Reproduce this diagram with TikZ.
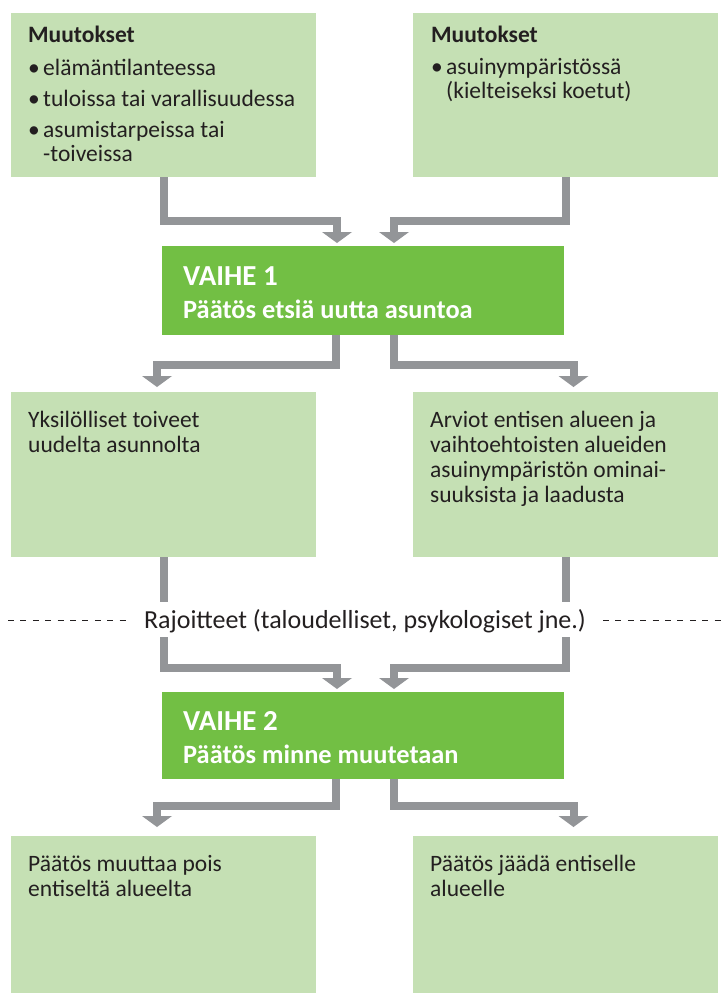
\documentclass[tikz,border=0pt]{standalone}
\usepackage{fontspec}
\setmainfont{Carlito}
\usetikzlibrary{arrows.meta}

\definecolor{lightgr}{RGB}{197,224,180}
\definecolor{stepgr}{RGB}{114,191,68}
\definecolor{linegr}{RGB}{147,149,152}
\definecolor{txt}{RGB}{35,31,32}

\newcommand{\bul}{\makebox[15pt][l]{\textbullet}}
\newcommand{\ind}{\hspace*{15pt}}

\begin{document}
\begin{tikzpicture}[x=1pt,y=-1pt,
    lbox/.style={fill=lightgr, anchor=north west, minimum width=305pt, inner sep=0pt, outer sep=0pt},
    gbox/.style={fill=stepgr, anchor=north west, minimum width=402pt, inner sep=0pt, outer sep=0pt},
    btext/.style={anchor=north west, align=left, inner sep=0pt, text=txt, font=\fontsize{23.5}{25}\selectfont},
    gtext/.style={anchor=base west, inner sep=0pt, text=white, font=\bfseries\fontsize{26.4}{30}\selectfont},
    gtitle/.style={gtext, font=\bfseries\fontsize{29}{32}\selectfont},
    gline/.style={draw=linegr, line width=8pt},
    conn/.style={gline, -{Triangle[width=30pt,length=11pt,line width=0pt]}},
    dashline/.style={draw=txt, line width=1pt, dash pattern=on 6pt off 6.4pt}]
    \useasboundingbox (0,0) rectangle (725,994);

    % boxes
    \node[lbox, minimum height=164pt] (tl) at (11,13) {};
    \node[lbox, minimum height=164pt] (tr) at (413,13) {};
    \node[gbox, minimum height=89pt] (g1) at (162,246) {};
    \node[lbox, minimum height=165pt] (ml) at (11,392) {};
    \node[lbox, minimum height=165pt] (mr) at (413,392) {};
    \node[gbox, minimum height=87pt] (g2) at (162,692) {};
    \node[lbox, minimum height=157pt] (bl) at (11,836) {};
    \node[lbox, minimum height=157pt] (br) at (413,836) {};

    % texts
    \node[btext] (tlt) at (28,26) {\textbf{Muutokset}\\[8pt]
        \bul elämäntilanteessa\\[6pt]
        \bul tuloissa tai varallisuudessa\\[6pt]
        \bul asumistarpeissa tai\\[-1pt]
        \ind -toiveissa};
    \node[btext] (trt) at (431,26) {\textbf{Muutokset}\\[7pt]
        \bul asuinympäristössä\\[-1pt]
        \ind (kielteiseksi koetut)};
    \node[gtitle] (g1a) at (183,285) {VAIHE 1};
    \node[gtext] (g1b) at (183,318) {Päätös etsiä uutta asuntoa};
    \node[btext] (mlt) at (28,411) {Yksilölliset toiveet\\ uudelta asunnolta};
    \node[btext] (mrt) at (430,411) {Arviot entisen alueen ja\\ vaihtoehtoisten alueiden\\
        asuinympäristön ominai-\\ suuksista ja laadusta};
    \node[gtitle] (g2a) at (183,730) {VAIHE 2};
    \node[gtext] (g2b) at (183,763) {Päätös minne muutetaan};
    \node[btext] (blt) at (28,855) {Päätös muuttaa pois\\ entiseltä alueelta};
    \node[btext] (brt) at (430,855) {Päätös jäädä entiselle\\ alueelle};
    \node[anchor=base, inner sep=0pt, text=txt, font=\fontsize{26}{30}\selectfont] (lim) at (365,628)
        {Rajoitteet (taloudelliset, psykologiset jne.)};

    % dashed line
    \draw[dashline] (8,620) -- (127,620);
    \draw[dashline] (603,620) -- (722,620);

    % arrow ends
    \coordinate (a1) at ([xshift=-26pt,yshift=3pt]g1.north);
    \coordinate (a2) at ([xshift=31pt,yshift=3pt]g1.north);
    \coordinate (s1) at ([xshift=-27pt]g1.south);
    \coordinate (s2) at ([xshift=31pt]g1.south);
    \coordinate (b1) at ([xshift=-6.5pt,yshift=5pt]ml.north);
    \coordinate (b2) at ([xshift=8pt,yshift=5pt]mr.north);
    \coordinate (cut1) at (0,602);
    \coordinate (cut2) at (0,637);
    \coordinate (c1) at ([xshift=-26pt,yshift=3pt]g2.north);
    \coordinate (c2) at ([xshift=31pt,yshift=3pt]g2.north);
    \coordinate (t1) at ([xshift=-27pt]g2.south);
    \coordinate (t2) at ([xshift=31pt]g2.south);
    \coordinate (d1) at ([xshift=-6.5pt,yshift=9pt]bl.north);
    \coordinate (d2) at ([xshift=8pt,yshift=9pt]br.north);

    % connectors
    \draw[conn] (tl.south) |- ([yshift=22pt]a1) -- (a1);
    \draw[conn] (tr.south) |- ([yshift=22pt]a2) -- (a2);
    \draw[conn] (s1) |- ([yshift=22pt]b1) -- (b1);
    \draw[conn] (s2) |- ([yshift=22pt]b2) -- (b2);
    \draw[gline] (ml.south) -- (ml.south |- cut1);
    \draw[gline] (mr.south) -- (mr.south |- cut1);
    \draw[conn] (ml.south |- cut2) |- ([yshift=21pt]c1) -- (c1);
    \draw[conn] (mr.south |- cut2) |- ([yshift=21pt]c2) -- (c2);
    \draw[conn] (t1) |- ([yshift=21pt]d1) -- (d1);
    \draw[conn] (t2) |- ([yshift=21pt]d2) -- (d2);
\end{tikzpicture}
\end{document}
